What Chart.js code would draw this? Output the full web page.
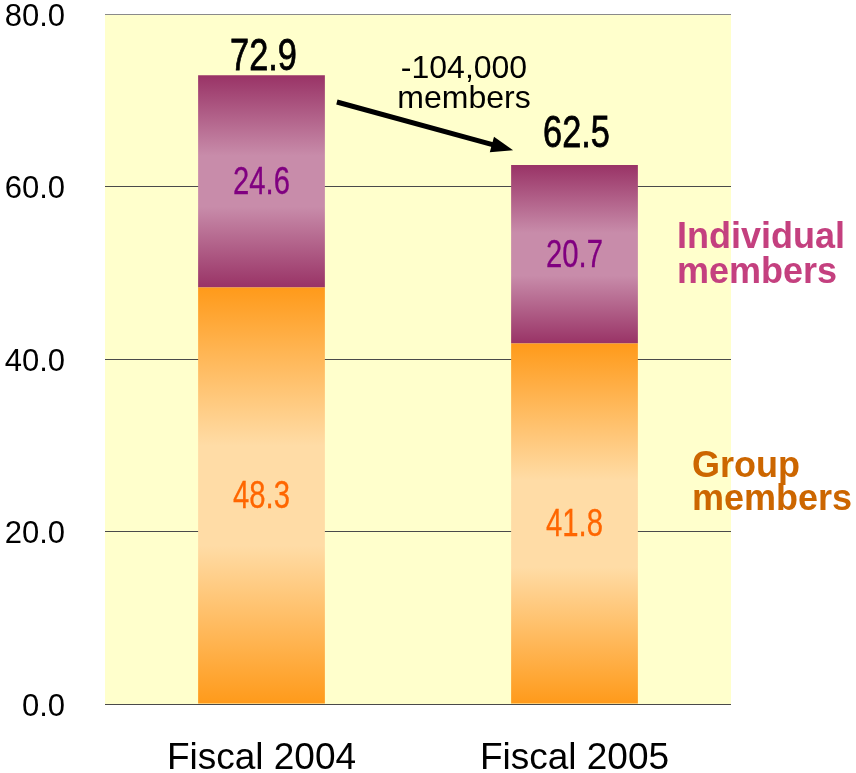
<!DOCTYPE html>
<html>
<head>
<meta charset="utf-8">
<title>Members</title>
<script src="https://cdn.jsdelivr.net/npm/chart.js@4.4.1/dist/chart.umd.min.js"></script>
<style>
  html, body { margin: 0; padding: 0; background: #fff; }
</style>
</head>
<body>
<canvas id="chart" width="856" height="773"></canvas>
<script>
const years = ["Fiscal 2004", "Fiscal 2005"];
const groupMembers = [48.3, 41.8];
const individualMembers = [24.6, 20.7];
const totals = [72.9, 62.5];
const changeLabel = ["-104,000", "members"];

const SANS = "'Liberation Sans', Arial, sans-serif";

// vertical gradient spanning one stacked segment: dark edges, light plateau in the middle
function segmentFill(dark, light) {
  return (ctx) => {
    const chart = ctx.chart;
    if (!chart.chartArea || ctx.type !== "data") return dark;
    const y = chart.scales.y;
    const i = ctx.dataIndex;
    const lower = ctx.datasetIndex === 0 ? 0 : groupMembers[i];
    const upper = lower + ctx.dataset.data[i];
    const g = chart.ctx.createLinearGradient(0, y.getPixelForValue(upper), 0, y.getPixelForValue(lower));
    g.addColorStop(0, dark);
    g.addColorStop(0.38, light);
    g.addColorStop(0.62, light);
    g.addColorStop(1, dark);
    return g;
  };
}

// condensed text: squeeze horizontally around the anchor point, optional thin outline for weight
function narrowText(ctx, text, x, y, squeeze, weight) {
  ctx.save();
  ctx.translate(x, y);
  ctx.scale(squeeze, 1);
  ctx.fillText(text, 0, 0);
  if (weight) {
    ctx.strokeStyle = ctx.fillStyle;
    ctx.lineWidth = weight;
    ctx.strokeText(text, 0, 0);
  }
  ctx.restore();
}

const plotBackground = {
  id: "plotBackground",
  beforeDraw(chart) {
    const { ctx, chartArea: a } = chart;
    ctx.save();
    ctx.fillStyle = "#FFFFCC";
    ctx.fillRect(a.left, a.top, a.right - a.left, a.bottom - a.top);
    ctx.restore();
  },
};

const annotations = {
  id: "annotations",
  afterDatasetsDraw(chart) {
    const { ctx, chartArea: a } = chart;
    const y = chart.scales.y;
    const lowBars = chart.getDatasetMeta(0).data;
    const topBars = chart.getDatasetMeta(1).data;
    ctx.save();
    ctx.textAlign = "center";

    // segment values
    ctx.textBaseline = "middle";
    ctx.font = "38px " + SANS;
    years.forEach((_, i) => {
      ctx.fillStyle = "#FF6600";
      narrowText(ctx, groupMembers[i].toFixed(1), lowBars[i].x, y.getPixelForValue(groupMembers[i] / 2) + 2, 0.77, 0.3);
      ctx.fillStyle = "#800080";
      narrowText(ctx, individualMembers[i].toFixed(1), topBars[i].x,
        y.getPixelForValue(groupMembers[i] + individualMembers[i] / 2) + 2, 0.77, 0.3);
    });

    // totals above each bar
    const gaps = [5, 18];
    ctx.textBaseline = "alphabetic";
    ctx.fillStyle = "#000";
    ctx.font = "44px " + SANS;
    years.forEach((_, i) => {
      narrowText(ctx, totals[i].toFixed(1), topBars[i].x + 2, y.getPixelForValue(totals[i]) - gaps[i], 0.78, 0.8);
    });

    // arrow between the two totals
    const x0 = topBars[0].x + topBars[0].width / 2 + 12;
    const y0 = y.getPixelForValue(69.8);
    const x1 = topBars[1].x - topBars[1].width / 2 + 2;
    const y1 = y.getPixelForValue(64.2);
    const ang = Math.atan2(y1 - y0, x1 - x0);
    const head = 22;
    ctx.strokeStyle = "#000";
    ctx.lineWidth = 5;
    ctx.beginPath();
    ctx.moveTo(x0, y0);
    ctx.lineTo(x1 - Math.cos(ang) * head * 0.8, y1 - Math.sin(ang) * head * 0.8);
    ctx.stroke();
    ctx.beginPath();
    ctx.moveTo(x1, y1);
    ctx.lineTo(x1 - head * Math.cos(ang) + 8 * Math.sin(ang), y1 - head * Math.sin(ang) - 8 * Math.cos(ang));
    ctx.lineTo(x1 - head * Math.cos(ang) - 8 * Math.sin(ang), y1 - head * Math.sin(ang) + 8 * Math.cos(ang));
    ctx.closePath();
    ctx.fillStyle = "#000";
    ctx.fill();

    ctx.font = "32px " + SANS;
    const cx = (x0 + x1) / 2 + 39;
    ctx.fillText(changeLabel[0], cx, a.top + 64);
    ctx.fillText(changeLabel[1], cx, a.top + 94);

    // series names at the right
    ctx.textAlign = "left";
    ctx.font = "bold 36px " + SANS;
    ctx.fillStyle = "#C4407F";
    ctx.fillText("Individual", a.right - 54, a.top + 234);
    ctx.fillText("members", a.right - 54, a.top + 269);
    ctx.fillStyle = "#CC6600";
    ctx.fillText("Group", a.right - 39, a.top + 463);
    ctx.fillText("members", a.right - 39, a.top + 496);
    ctx.restore();
  },
};

new Chart(document.getElementById("chart"), {
  type: "bar",
  data: {
    labels: years,
    datasets: [
      {
        label: "Group members",
        data: groupMembers,
        backgroundColor: segmentFill("#FF9A1A", "#FFDCA6"),
        categoryPercentage: 0.405,
        barPercentage: 1,
      },
      {
        label: "Individual members",
        data: individualMembers,
        backgroundColor: segmentFill("#993366", "#C88CAA"),
        categoryPercentage: 0.405,
        barPercentage: 1,
      },
    ],
  },
  options: {
    responsive: false,
    animation: false,
    devicePixelRatio: 1,
    layout: { padding: { top: 14, right: 125, left: 0, bottom: 0 } },
    plugins: { legend: { display: false }, tooltip: { enabled: false } },
    scales: {
      x: {
        stacked: true,
        grid: { display: false },
        border: { display: false },
        ticks: { color: "#000", font: { family: SANS, size: 37 }, padding: 25 },
        afterFit(s) { s.height = 69; s.paddingLeft = 0; s.paddingRight = 0; },
      },
      y: {
        stacked: true,
        min: 0,
        max: 80,
        border: { display: false },
        grid: {
          drawTicks: false,
          color: (c) => (c.tick && c.tick.value === 80 ? "#8a8a8a" : "#4a4a4a"),
          lineWidth: 1,
        },
        ticks: {
          stepSize: 20,
          padding: 40,
          labelOffset: 3,
          color: "#000",
          font: { family: SANS, size: 31 },
          callback: (v) => v.toFixed(1),
        },
        afterFit(s) { s.width = 105; s.paddingTop = 0; s.paddingBottom = 0; },
      },
    },
  },
  plugins: [plotBackground, annotations],
});
</script>
</body>
</html>
